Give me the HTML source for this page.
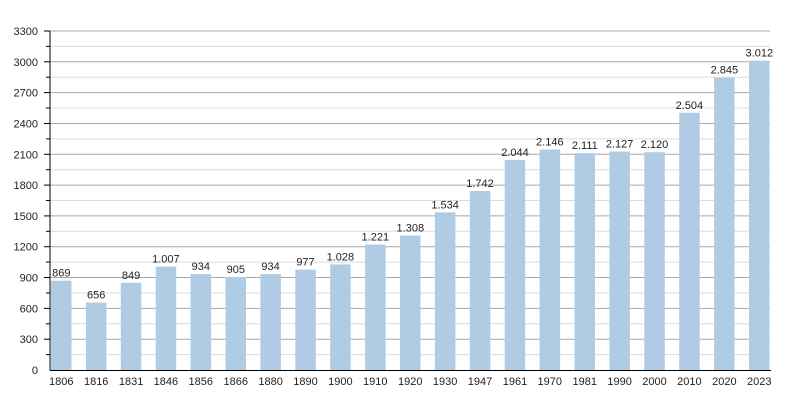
<!DOCTYPE html>
<html><head><meta charset="utf-8"><style>body{margin:0;background:#fff}svg{display:block}text{font-family:"Liberation Sans",sans-serif;font-size:11px;fill:#222}</style></head><body>
<svg width="800" height="400" xmlns="http://www.w3.org/2000/svg" id="s"></svg>
<script>
const s=document.getElementById('s');
const years=[1806,1816,1831,1846,1856,1866,1880,1890,1900,1910,1920,1930,1947,1961,1970,1981,1990,2000,2010,2020,2023];
const vals=[869,656,849,1007,934,905,934,977,1028,1221,1308,1534,1742,2044,2146,2111,2127,2120,2504,2845,3012];
const y0=370,k=339/3300;
let h='';
for(let v=150;v<=3300;v+=150){const y=(y0-v*k).toFixed(1);const major=v%300==0;
h+=`<line x1="50" x2="770" y1="${y}" y2="${y}" stroke="${major?'#a8a8a8':'#dcdcdc'}" stroke-width="1"/>`;
h+=`<line x1="${major?44:46}" x2="50" y1="${y}" y2="${y}" stroke="#000"/>`;
if(major)h+=`<text x="38" y="${(+y+4)}" text-anchor="end">${v}</text>`;}
h+=`<text x="38" y="374" text-anchor="end">0</text>`;
vals.forEach((v,i)=>{const x=51+i*34.9;const y=y0-v*k;
h+=`<rect x="${x.toFixed(1)}" y="${y.toFixed(1)}" width="20.5" height="${(v*k).toFixed(1)}" fill="#b0cbe4"/>`;
const lab=v>=1000?String(v).replace(/(\d)(\d{3})$/,'$1.$2'):v;
h+=`<text x="${(x+10.25).toFixed(1)}" y="${(y-4).toFixed(1)}" text-anchor="middle">${lab}</text>`;
h+=`<text x="${(x+10.25).toFixed(1)}" y="385" text-anchor="middle">${years[i]}</text>`;});
h+=`<line x1="50" x2="50" y1="31" y2="370.5" stroke="#000"/><line x1="50" x2="771" y1="370.5" y2="370.5" stroke="#000"/>`;
s.innerHTML=h;
</script>
</body></html>
